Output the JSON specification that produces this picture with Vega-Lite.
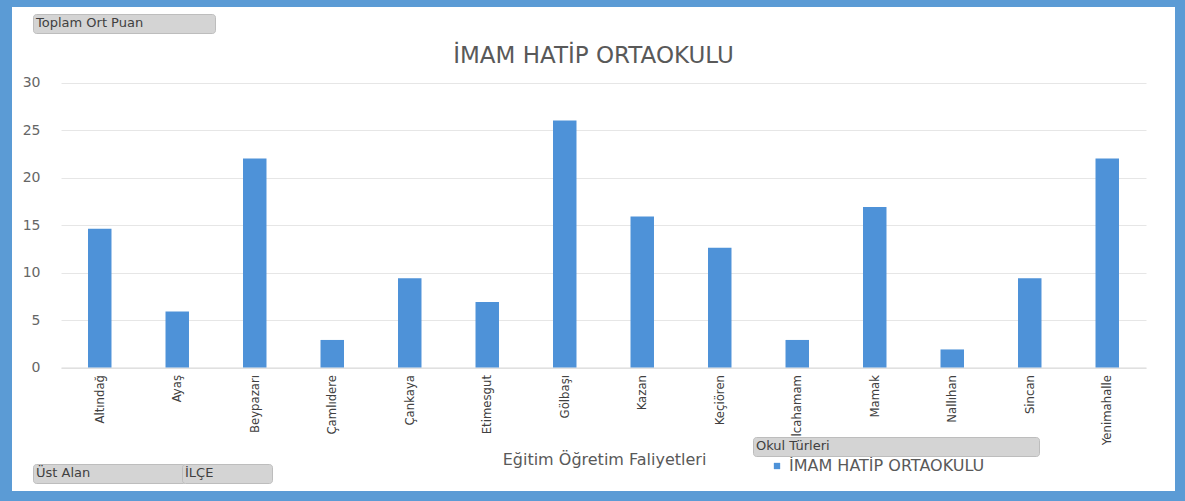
{
  "$schema": "https://vega.github.io/schema/vega-lite/v6.json",
  "autosize": {"type": "none"},
  "padding": {"left": 7, "top": 2, "right": 5, "bottom": 5},
  "width": 1173,
  "height": 494,
  "background": "#5b9bd5",
  "view": {"stroke": "#5b9bd5", "strokeWidth": 10, "fill": "white"},
  "config": {
    "view": {"stroke": "#5b9bd5", "strokeWidth": 10, "fill": "white"},
    "font": "DejaVu Sans"
  },
  "title": {
    "text": "İMAM HATİP ORTAOKULU",
    "font": "DejaVu Sans",
    "fontSize": 23,
    "fontWeight": "normal",
    "color": "#595959",
    "anchor": "middle",
    "offset": -66
  },
  "layer": [
    {
      "data": {
        "values": [
          {"ilce": "Altındağ", "puan": 14.6, "tur": "İMAM HATİP ORTAOKULU"},
          {"ilce": "Ayaş", "puan": 5.9, "tur": "İMAM HATİP ORTAOKULU"},
          {"ilce": "Beypazarı", "puan": 22.0, "tur": "İMAM HATİP ORTAOKULU"},
          {"ilce": "Çamlıdere", "puan": 2.9, "tur": "İMAM HATİP ORTAOKULU"},
          {"ilce": "Çankaya", "puan": 9.4, "tur": "İMAM HATİP ORTAOKULU"},
          {"ilce": "Etimesgut", "puan": 6.9, "tur": "İMAM HATİP ORTAOKULU"},
          {"ilce": "Gölbaşı", "puan": 26.0, "tur": "İMAM HATİP ORTAOKULU"},
          {"ilce": "Kazan", "puan": 15.9, "tur": "İMAM HATİP ORTAOKULU"},
          {"ilce": "Keçiören", "puan": 12.6, "tur": "İMAM HATİP ORTAOKULU"},
          {"ilce": "Kızılcahamam", "puan": 2.9, "tur": "İMAM HATİP ORTAOKULU"},
          {"ilce": "Mamak", "puan": 16.9, "tur": "İMAM HATİP ORTAOKULU"},
          {"ilce": "Nallıhan", "puan": 1.9, "tur": "İMAM HATİP ORTAOKULU"},
          {"ilce": "Sincan", "puan": 9.4, "tur": "İMAM HATİP ORTAOKULU"},
          {"ilce": "Yenimahalle", "puan": 22.0, "tur": "İMAM HATİP ORTAOKULU"}
        ]
      },
      "mark": {"type": "bar"},
      "encoding": {
        "x": {
          "field": "ilce",
          "type": "nominal",
          "sort": null,
          "scale": {"range": [54, 1139], "paddingInner": 0.697, "paddingOuter": 0.3485},
          "axis": {
            "orient": "bottom",
            "offset": -128.5,
            "domain": true,
            "domainColor": "#d9d9d9",
            "ticks": false,
            "labelAngle": -90,
            "labelPadding": 7,
            "labelFont": "DejaVu Sans Condensed, Roboto, sans-serif",
            "labelFontSize": 13,
            "labelColor": "#404040",
            "labelLimit": 200,
            "title": "Eğitim Öğretim Faliyetleri",
            "titleFont": "DejaVu Sans",
            "titleFontSize": 16,
            "titleFontWeight": "normal",
            "titleColor": "#595959",
            "titleX": 597,
            "titleY": 91.5,
            "titleBaseline": "middle",
            "titleAlign": "center"
          }
        },
        "y": {
          "field": "puan",
          "type": "quantitative",
          "scale": {"domain": [0, 30], "range": [365.5, 80.5], "nice": false},
          "axis": {
            "orient": "left",
            "offset": -35,
            "values": [0, 5, 10, 15, 20, 25, 30],
            "domain": false,
            "ticks": false,
            "grid": true,
            "gridColor": "#e6e6e6",
            "labelPadding": 2,
            "labelFont": "DejaVu Sans",
            "labelFontSize": 14,
            "labelColor": "#666666",
            "title": null
          }
        },
        "color": {
          "field": "tur",
          "type": "nominal",
          "scale": {"domain": ["İMAM HATİP ORTAOKULU"], "range": ["#4e92d8"]},
          "legend": {
            "orient": "none",
            "legendX": 762,
            "legendY": 456,
            "title": null,
            "padding": 0,
            "symbolType": "square",
            "symbolSize": 40,
            "labelOffset": 4,
            "labelFont": "DejaVu Sans",
            "labelFontSize": 16,
            "labelColor": "#595959",
            "labelLimit": 400
          }
        }
      }
    },
    {
      "data": {"values": [{"b1": "Toplam Ort Puan"}]},
      "mark": {"type": "point", "opacity": 0},
      "encoding": {
        "shape": {
          "field": "b1",
          "type": "nominal",
          "legend": {
            "orient": "none", "legendX": 26, "legendY": 12,
            "title": "Toplam Ort Puan", "titleOrient": "left", "titlePadding": 56,
            "titleFont": "DejaVu Sans", "titleFontSize": 13, "titleFontWeight": "normal", "titleColor": "#404040",
            "padding": 3, "fillColor": "#d4d4d4", "strokeColor": "#bdbdbd", "cornerRadius": 3,
            "symbolSize": 0, "symbolOpacity": 0, "symbolStrokeWidth": 0, "labelOffset": 0,
            "labelExpr": "''", "labelFontSize": 12
          }
        }
      }
    },
    {
      "data": {"values": [{"b2": "Okul Türleri"}]},
      "mark": {"type": "point", "opacity": 0},
      "encoding": {
        "shape": {
          "field": "b2",
          "type": "nominal",
          "legend": {
            "orient": "none", "legendX": 746, "legendY": 435,
            "title": "Okul Türleri", "titleOrient": "left", "titlePadding": 194,
            "titleFont": "DejaVu Sans", "titleFontSize": 13, "titleFontWeight": "normal", "titleColor": "#404040",
            "padding": 3, "fillColor": "#d4d4d4", "strokeColor": "#bdbdbd", "cornerRadius": 3,
            "symbolSize": 0, "symbolOpacity": 0, "symbolStrokeWidth": 0, "labelOffset": 0,
            "labelExpr": "''", "labelFontSize": 12
          }
        }
      }
    },
    {
      "data": {"values": [{"b3": "Üst Alan"}]},
      "mark": {"type": "point", "opacity": 0},
      "encoding": {
        "shape": {
          "field": "b3",
          "type": "nominal",
          "legend": {
            "orient": "none", "legendX": 26, "legendY": 462,
            "title": "Üst Alan", "titleOrient": "left", "titlePadding": 80,
            "titleFont": "DejaVu Sans", "titleFontSize": 13, "titleFontWeight": "normal", "titleColor": "#404040",
            "padding": 3, "fillColor": "#d4d4d4", "strokeColor": "#bdbdbd", "cornerRadius": 3,
            "symbolSize": 0, "symbolOpacity": 0, "symbolStrokeWidth": 0, "labelOffset": 0,
            "labelExpr": "''", "labelFontSize": 12
          }
        }
      }
    },
    {
      "data": {"values": [{"b4": "İLÇE"}]},
      "mark": {"type": "point", "opacity": 0},
      "encoding": {
        "shape": {
          "field": "b4",
          "type": "nominal",
          "legend": {
            "orient": "none", "legendX": 175, "legendY": 462,
            "title": "İLÇE", "titleOrient": "left", "titlePadding": 43,
            "titleFont": "DejaVu Sans", "titleFontSize": 13, "titleFontWeight": "normal", "titleColor": "#404040",
            "padding": 3, "fillColor": "#d4d4d4", "strokeColor": "#bdbdbd", "cornerRadius": 3,
            "symbolSize": 0, "symbolOpacity": 0, "symbolStrokeWidth": 0, "labelOffset": 0,
            "labelExpr": "''", "labelFontSize": 12
          }
        }
      }
    }
  ],
  "resolve": {
    "scale": {"shape": "independent"},
    "legend": {"shape": "independent"}
  }
}
